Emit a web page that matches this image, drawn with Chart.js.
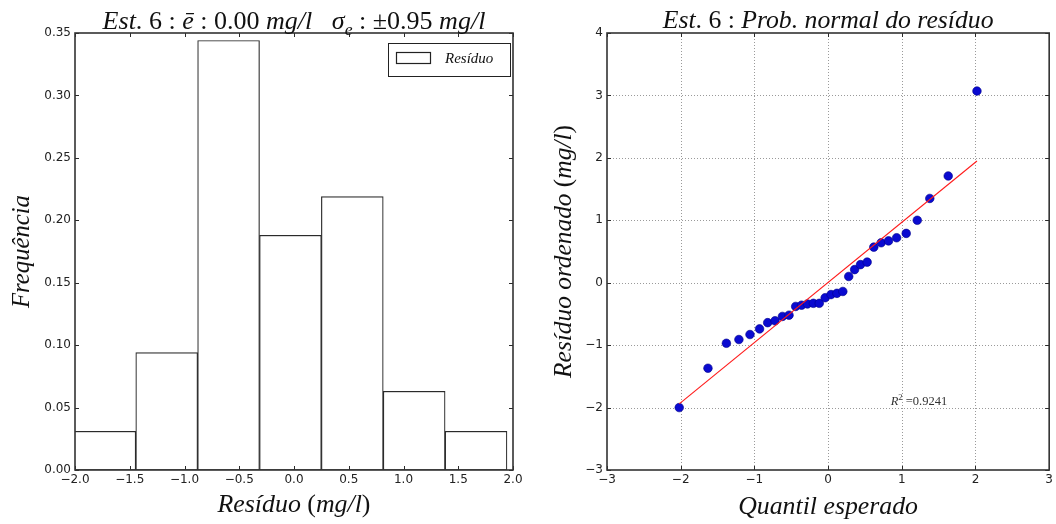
<!DOCTYPE html>
<html><head><meta charset="utf-8">
<script src="https://cdn.jsdelivr.net/npm/chart.js@4.4.1/dist/chart.umd.min.js"></script>
<style>
html,body{margin:0;padding:0;background:#fff;}
#wrap{position:relative;width:1056px;height:524px;overflow:hidden;}
.c{position:absolute;top:0;width:528px;height:524px;}
</style></head><body>
<div id="wrap">
<div class="c" style="left:0"><canvas id="hist" width="528" height="524"></canvas></div>
<div class="c" style="left:528px"><canvas id="qq" width="528" height="524"></canvas></div>
</div>
<script>
// ---------- data ----------
const binEdges = [-2.01, -1.445, -0.88, -0.315, 0.25, 0.815, 1.38, 1.945];
const binFreq = [0.031, 0.094, 0.344, 0.188, 0.219, 0.063, 0.031];
const histXTicks = [-2.0, -1.5, -1.0, -0.5, 0.0, 0.5, 1.0, 1.5, 2.0];
const histYTicks = [0.00, 0.05, 0.10, 0.15, 0.20, 0.25, 0.30, 0.35];

const qqTheoretical = [-2.02, -1.63, -1.38, -1.21, -1.06, -0.93, -0.82, -0.72, -0.62, -0.53, -0.44,
  -0.36, -0.28, -0.20, -0.12, -0.04, 0.04, 0.12, 0.20, 0.28, 0.36, 0.44, 0.53, 0.62, 0.72, 0.82,
  0.93, 1.06, 1.21, 1.38, 1.63, 2.02];
const qqOrdered = [-2.00, -1.37, -0.97, -0.91, -0.83, -0.74, -0.64, -0.61, -0.54, -0.52, -0.38,
  -0.36, -0.34, -0.33, -0.33, -0.24, -0.19, -0.17, -0.14, 0.10, 0.21, 0.29, 0.33, 0.57, 0.64, 0.67,
  0.72, 0.79, 1.00, 1.35, 1.71, 3.07];
const fitLineX = [-2.02, 2.02];
const fitLineY = [-1.94, 1.95];
const r2Value = '0.9241';
const r2Pos = [0.85, -1.90];
const qqXTicks = [-3, -2, -1, 0, 1, 2, 3];
const qqYTicks = [-3, -2, -1, 0, 1, 2, 3, 4];

// ---------- helpers ----------
const SERIF = '"Liberation Serif", "DejaVu Serif", serif';
const SANS = '"DejaVu Sans", sans-serif';
const minus = s => String(s).replace('-', '\u2212');

function richText(ctx, segs, cx, cy, targetW, baseSize, rotate, align) {
  const fontFor = (s, size) => `${s.it ? 'italic ' : ''}${(s.sub || s.sup) ? size * 0.68 : size}px ${SERIF}`;
  const measure = size => segs.reduce((w, s) => { ctx.font = fontFor(s, size); return w + ctx.measureText(s.t).width; }, 0);
  let size = baseSize;
  if (targetW) size = baseSize * targetW / measure(baseSize);
  const W = measure(size);
  ctx.save();
  ctx.translate(cx, cy);
  if (rotate) ctx.rotate(-Math.PI / 2);
  let x = align === 'left' ? 0 : -W / 2;
  ctx.textBaseline = 'alphabetic';
  ctx.textAlign = 'left';
  ctx.fillStyle = ctx._txtColor || '#111';
  for (const s of segs) {
    ctx.font = fontFor(s, size);
    const dy = s.sub ? size * 0.25 : s.sup ? -size * 0.4 : 0;
    ctx.fillText(s.t, x, size * 0.33 + dy);
    x += ctx.measureText(s.t).width;
  }
  ctx.restore();
}

function frameAndTicks(chart, xs, ys, tickLen) {
  const { ctx, chartArea: a } = chart;
  const sx = chart.scales.x, sy = chart.scales.y;
  ctx.save();
  ctx.strokeStyle = '#2a2a2a';
  ctx.lineWidth = 1;
  ctx.beginPath();
  for (const v of xs) {
    const p = Math.round(sx.getPixelForValue(v)) + 0.5;
    ctx.moveTo(p, a.bottom); ctx.lineTo(p, a.bottom - tickLen);
    ctx.moveTo(p, a.top); ctx.lineTo(p, a.top + tickLen);
  }
  for (const v of ys) {
    const p = Math.round(sy.getPixelForValue(v)) + 0.5;
    ctx.moveTo(a.left, p); ctx.lineTo(a.left + tickLen, p);
    ctx.moveTo(a.right, p); ctx.lineTo(a.right - tickLen, p);
  }
  ctx.stroke();
  ctx.lineWidth = 1.6;
  ctx.strokeStyle = '#333';
  ctx.strokeRect(a.left, a.top, a.right - a.left, a.bottom - a.top);
  ctx.restore();
}

const tickFont = { family: SANS, size: 12 };
const tickColor = '#222';

// ---------- histogram ----------
const histCenters = binFreq.map((_, i) => (binEdges[i] + binEdges[i + 1]) / 2);

const histPlugin = {
  id: 'histDeco',
  afterDatasetsDraw(chart) {
    frameAndTicks(chart, histXTicks, histYTicks, 4);
  },
  afterDraw(chart) {
    const ctx = chart.ctx, a = chart.chartArea;
    const cx = (a.left + a.right) / 2;
    richText(ctx, [
      { t: 'Est', it: 1 }, { t: '. 6 : ' }, { t: '\u0113', it: 1 }, { t: ' : 0.00 ' }, { t: 'mg/l', it: 1 },
      { t: '   \u03C3', it: 1 }, { t: 'e', it: 1, sub: 1 }, { t: ' : \u00B10.95 ' }, { t: 'mg/l', it: 1 }
    ], cx, 20, 383, 20);
    richText(ctx, [{ t: 'Res\u00EDduo', it: 1 }, { t: ' (' }, { t: 'mg/l', it: 1 }, { t: ')' }], cx, 503, 153, 20);
    richText(ctx, [{ t: 'Frequ\u00EAncia', it: 1 }], 21, (a.top + a.bottom) / 2, 113, 20, true);
    // legend
    ctx.save();
    ctx.strokeStyle = '#222';
    ctx.lineWidth = 1;
    ctx.fillStyle = '#fff';
    ctx.fillRect(388.5, 43.5, 122, 33);
    ctx.strokeRect(388.5, 43.5, 122, 33);
    ctx.lineWidth = 1.2;
    ctx.strokeRect(396.5, 52.5, 34, 11);
    ctx.restore();
    richText(ctx, [{ t: 'Res\u00EDduo', it: 1 }], 445, 58, null, 15, false, 'left');
  }
};

new Chart(document.getElementById('hist'), {
  type: 'bar',
  data: {
    datasets: [{
      xAxisID: 'xb',
      data: histCenters.map((c, i) => ({ x: c, y: binFreq[i] })),
      backgroundColor: '#fff',
      borderColor: '#2a2a2a',
      borderWidth: 1.2,
      borderSkipped: false,
      barPercentage: 1,
      categoryPercentage: 1
    }]
  },
  options: {
    responsive: false, devicePixelRatio: 1, animation: false, events: [],
    layout: { padding: { top: 33, right: 15, left: 0, bottom: 0 } },
    plugins: { legend: { display: false }, tooltip: { enabled: false }, title: { display: false } },
    scales: {
      xb: {
        type: 'linear', min: -2, max: 2, offset: false, display: false, position: 'bottom',
        afterBuildTicks: s => { s.ticks = []; }
      },
      x: {
        type: 'linear', min: -2, max: 2, offset: false, position: 'bottom',
        grid: { display: false, drawTicks: false }, border: { display: false },
        afterBuildTicks: s => { s.ticks = histXTicks.map(v => ({ value: v })); },
        afterFit: s => { s.height = 54; },
        ticks: { font: tickFont, color: tickColor, padding: 3, autoSkip: false, maxRotation: 0,
          callback: v => minus(Number(v).toFixed(1)) }
      },
      y: {
        type: 'linear', min: 0, max: 0.35,
        grid: { display: false, drawTicks: false }, border: { display: false },
        afterBuildTicks: s => { s.ticks = histYTicks.map(v => ({ value: v })); },
        afterFit: s => { s.width = 75; },
        ticks: { font: tickFont, color: tickColor, padding: 4, autoSkip: false,
          callback: v => Number(v).toFixed(2) }
      }
    }
  },
  plugins: [histPlugin]
});

// ---------- Q-Q plot ----------
const qqPlugin = {
  id: 'qqDeco',
  beforeDatasetsDraw(chart) {
    const { ctx, chartArea: a } = chart;
    const sx = chart.scales.x, sy = chart.scales.y;
    ctx.save();
    ctx.strokeStyle = '#9a9a9a';
    ctx.lineWidth = 1;
    ctx.setLineDash([1, 2]);
    ctx.beginPath();
    qqXTicks.slice(1, -1).forEach(v => {
      const p = Math.round(sx.getPixelForValue(v)) + 0.5;
      ctx.moveTo(p, a.top); ctx.lineTo(p, a.bottom);
    });
    qqYTicks.slice(1, -1).forEach(v => {
      const p = Math.round(sy.getPixelForValue(v)) + 0.5;
      ctx.moveTo(a.left, p); ctx.lineTo(a.right, p);
    });
    ctx.stroke();
    ctx.restore();
  },
  afterDatasetsDraw(chart) {
    frameAndTicks(chart, qqXTicks, qqYTicks, 4);
  },
  afterDraw(chart) {
    const ctx = chart.ctx, a = chart.chartArea;
    const cx = (a.left + a.right) / 2;
    richText(ctx, [{ t: 'Est', it: 1 }, { t: '. 6 : ' }, { t: 'Prob. normal do res\u00EDduo', it: 1 }], cx, 20, 331, 20);
    richText(ctx, [{ t: 'Quantil esperado', it: 1 }], cx, 505, 180, 20);
    richText(ctx, [{ t: 'Res\u00EDduo ordenado', it: 1 }, { t: ' (' }, { t: 'mg/l', it: 1 }, { t: ')' }], 35, (a.top + a.bottom) / 2, 253, 20, true);
    const px = chart.scales.x.getPixelForValue(r2Pos[0]);
    const py = chart.scales.y.getPixelForValue(r2Pos[1]);
    ctx._txtColor = '#333';
    richText(ctx, [{ t: 'R', it: 1 }, { t: '2', sup: 1 }, { t: ' =' + r2Value }], px, py, null, 12.5, false, 'left');
    ctx._txtColor = null;
  }
};

new Chart(document.getElementById('qq'), {
  type: 'scatter',
  data: {
    datasets: [
      {
        data: fitLineX.map((x, i) => ({ x, y: fitLineY[i] })),
        showLine: true, borderColor: '#ff1a1a', borderWidth: 1.1, pointRadius: 0, fill: false
      },
      {
        data: qqTheoretical.map((x, i) => ({ x, y: qqOrdered[i] })),
        showLine: false, pointRadius: 4.3, backgroundColor: '#0a0ad0', borderColor: '#00008a', borderWidth: 0.6
      }
    ]
  },
  options: {
    responsive: false, devicePixelRatio: 1, animation: false, events: [],
    layout: { padding: { top: 33, right: 5, left: 0, bottom: 0 } },
    plugins: { legend: { display: false }, tooltip: { enabled: false }, title: { display: false } },
    scales: {
      x: {
        type: 'linear', min: -3, max: 3,
        grid: { display: false, drawTicks: false }, border: { display: false },
        afterBuildTicks: s => { s.ticks = qqXTicks.map(v => ({ value: v })); },
        afterFit: s => { s.height = 54; },
        ticks: { font: tickFont, color: tickColor, padding: 3, autoSkip: false, maxRotation: 0,
          callback: v => minus(v) }
      },
      y: {
        type: 'linear', min: -3, max: 4,
        grid: { display: false, drawTicks: false }, border: { display: false },
        afterBuildTicks: s => { s.ticks = qqYTicks.map(v => ({ value: v })); },
        afterFit: s => { s.width = 79; },
        ticks: { font: tickFont, color: tickColor, padding: 4, autoSkip: false,
          callback: v => minus(v) }
      }
    }
  },
  plugins: [qqPlugin]
});
</script>
</body></html>
